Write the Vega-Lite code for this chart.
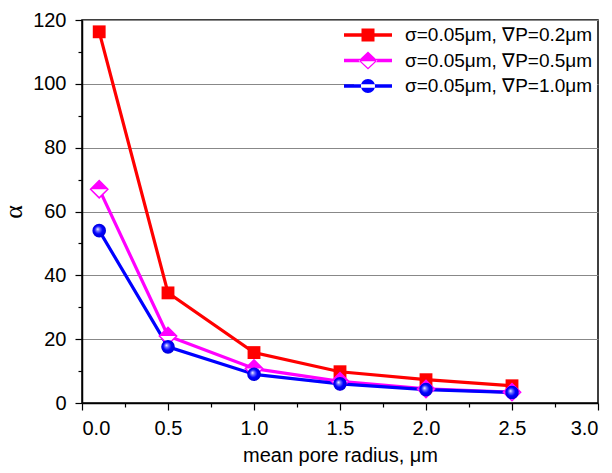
{
  "$schema": "https://vega.github.io/schema/vega-lite/v6.json",
  "width": 516,
  "height": 383,
  "autosize": {"type": "none"},
  "padding": {"left": 82, "top": 20, "right": 14, "bottom": 70},
  "background": "white",
  "config": {
    "font": "Liberation Sans",
    "view": {"stroke": "black", "strokeWidth": 1.5}
  },
  "data": {
    "values": [
      {"series": "σ=0.05μm, ∇P=0.2μm", "r": 0.1, "alpha": 116.3},
      {"series": "σ=0.05μm, ∇P=0.2μm", "r": 0.5, "alpha": 34.5},
      {"series": "σ=0.05μm, ∇P=0.2μm", "r": 1.0, "alpha": 15.8},
      {"series": "σ=0.05μm, ∇P=0.2μm", "r": 1.5, "alpha": 9.8},
      {"series": "σ=0.05μm, ∇P=0.2μm", "r": 2.0, "alpha": 7.3},
      {"series": "σ=0.05μm, ∇P=0.2μm", "r": 2.5, "alpha": 5.4},
      {"series": "σ=0.05μm, ∇P=0.5μm", "r": 0.1, "alpha": 67.0},
      {"series": "σ=0.05μm, ∇P=0.5μm", "r": 0.5, "alpha": 21.0},
      {"series": "σ=0.05μm, ∇P=0.5μm", "r": 1.0, "alpha": 10.8},
      {"series": "σ=0.05μm, ∇P=0.5μm", "r": 1.5, "alpha": 6.8},
      {"series": "σ=0.05μm, ∇P=0.5μm", "r": 2.0, "alpha": 4.4},
      {"series": "σ=0.05μm, ∇P=0.5μm", "r": 2.5, "alpha": 3.4},
      {"series": "σ=0.05μm, ∇P=1.0μm", "r": 0.1, "alpha": 54.0},
      {"series": "σ=0.05μm, ∇P=1.0μm", "r": 0.5, "alpha": 17.6},
      {"series": "σ=0.05μm, ∇P=1.0μm", "r": 1.0, "alpha": 9.0},
      {"series": "σ=0.05μm, ∇P=1.0μm", "r": 1.5, "alpha": 6.0},
      {"series": "σ=0.05μm, ∇P=1.0μm", "r": 2.0, "alpha": 4.2},
      {"series": "σ=0.05μm, ∇P=1.0μm", "r": 2.5, "alpha": 3.3}
    ]
  },
  "encoding": {
    "x": {
      "field": "r", "type": "quantitative",
      "scale": {"domain": [0, 3], "nice": false, "zero": false},
      "axis": {
        "orient": "bottom",
        "title": "mean pore radius, μm",
        "values": [0, 0.25, 0.5, 0.75, 1, 1.25, 1.5, 1.75, 2, 2.25, 2.5, 2.75, 3],
        "labelExpr": "datum.value % 0.5 === 0 ? format(datum.value, '.1f') : ''",
        "grid": false,
        "labelFontSize": 20, "labelColor": "black", "labelPadding": 8,
        "titleFontSize": 20, "titleFontWeight": "normal", "titleColor": "black", "titlePadding": 7,
        "tickSize": {"condition": {"test": "datum.value % 0.5 !== 0", "value": 4}, "value": 7},
        "tickColor": "black", "tickWidth": 1.2,
        "domainColor": "black", "domainWidth": 1.5
      }
    },
    "y": {
      "field": "alpha", "type": "quantitative",
      "scale": {"domain": [0, 120], "nice": false},
      "axis": {
        "orient": "left",
        "title": "α",
        "values": [0, 10, 20, 30, 40, 50, 60, 70, 80, 90, 100, 110, 120],
        "labelExpr": "datum.value % 20 === 0 ? datum.label : ''",
        "grid": true, "gridColor": "#888888", "gridWidth": 1,
        "gridOpacity": {"condition": {"test": "datum.value % 20 !== 0", "value": 0}, "value": 1},
        "labelFontSize": 20, "labelColor": "black", "labelPadding": 9,
        "titleFont": "Liberation Serif", "titleFontSize": 26, "titleFontWeight": "normal", "titleColor": "black", "titlePadding": 6,
        "tickSize": {"condition": {"test": "datum.value % 20 !== 0", "value": 4}, "value": 7},
        "tickColor": "black", "tickWidth": 1.2,
        "domainColor": "black", "domainWidth": 1.5
      }
    }
  },
  "layer": [
    {
      "mark": {"type": "line", "strokeWidth": 3.2},
      "encoding": {
        "color": {
          "field": "series", "type": "nominal",
          "scale": {
            "domain": ["σ=0.05μm, ∇P=0.2μm", "σ=0.05μm, ∇P=0.5μm", "σ=0.05μm, ∇P=1.0μm"],
            "range": ["#ff0000", "#ff00ff", "#0000ff"]
          },
          "legend": {
            "orient": "none", "legendX": 272, "legendY": 1,
            "title": null,
            "symbolSize": 400,
            "labelFontSize": 19, "labelColor": "black", "labelOffset": 27, "labelLimit": 400,
            "rowPadding": 5.5, "padding": 4, "fillColor": "white",
            "encode": {
              "symbols": {
                "update": {
                  "shape": {"signal": "datum.index === 0 ? 'M-2.4,-0.17H-0.65V-0.65H0.65V-0.17H2.4V0.17H0.65V0.65H-0.65V0.17H-2.4Z' : (datum.index === 1 ? 'M-2.4,-0.17H-0.8V0.17H-2.4Z M0.8,-0.17H2.4V0.17H0.8Z M-0.95,0L0,-0.9L0.95,0Z M-0.95,0L0,0.9L0.95,0Z M-0.7,0.08L0.7,0.08L0,0.72Z' : 'M-2.4,-0.17H2.4V0.17H-2.4Z M-0.7,0A0.7,0.7 0 1,0 0.7,0A0.7,0.7 0 1,0 -0.7,0Z')"},
                  "fill": {"signal": "datum.index === 0 ? '#ff0000' : (datum.index === 1 ? '#ff00ff' : '#0000ff')"},
                  "stroke": {"value": "transparent"},
                  "strokeWidth": {"value": 0},
                  "opacity": {"value": 1}
                }
              }
            }
          }
        }
      }
    },
    {
      "transform": [{"filter": "datum.series === 'σ=0.05μm, ∇P=0.2μm'"}],
      "mark": {"type": "point", "shape": "square", "filled": true, "size": 165, "color": "#ff0000", "opacity": 1}
    },
    {
      "transform": [{"filter": "datum.series === 'σ=0.05μm, ∇P=0.5μm'"}],
      "mark": {"type": "point", "shape": "diamond", "filled": true, "size": 300, "fill": "white", "stroke": "#ff00ff", "strokeWidth": 1.5, "opacity": 1}
    },
    {
      "transform": [{"filter": "datum.series === 'σ=0.05μm, ∇P=0.5μm'"}],
      "mark": {"type": "point", "shape": "M-1,0L0,-1L1,0Z", "filled": true, "size": 300, "color": "#ff00ff", "opacity": 1}
    },
    {
      "transform": [{"filter": "datum.series === 'σ=0.05μm, ∇P=1.0μm'"}],
      "mark": {
        "type": "point", "shape": "circle", "filled": true, "size": 185, "opacity": 1,
        "color": {
          "gradient": "radial",
          "x1": 0.38, "y1": 0.38, "r1": 0,
          "x2": 0.5, "y2": 0.5, "r2": 0.55,
          "stops": [
            {"offset": 0, "color": "#ffffff"},
            {"offset": 0.25, "color": "#7070ff"},
            {"offset": 0.55, "color": "#0000ff"},
            {"offset": 1, "color": "#0000d0"}
          ]
        }
      }
    }
  ]
}
